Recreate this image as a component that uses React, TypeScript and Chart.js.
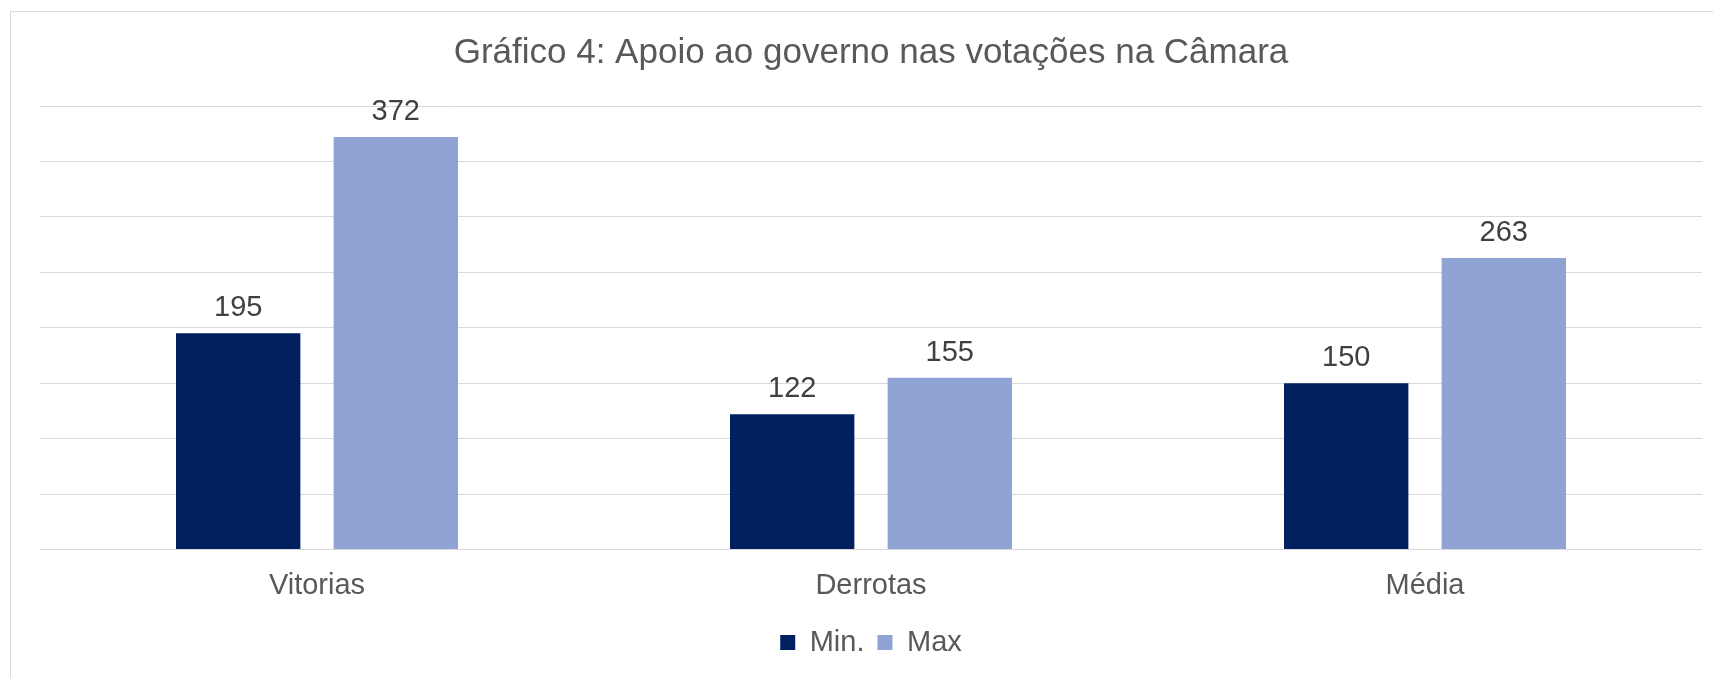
import React, { useEffect, useRef } from "react";
import { Chart, registerables } from "chart.js";

Chart.register(...registerables);

const categories = ["Vitorias", "Derrotas", "Média"];
const minValues = [195, 122, 150];
const maxValues = [372, 155, 263];
const seriesNames = ["Min.", "Max"];
const yMax = 400;
const yStep = 50;

const FONT = "'Liberation Sans', Arial, Helvetica, sans-serif";
const PLOT_BOTTOM = 549.5;
const LAYOUT_BOTTOM = 11;

const valueLabels = {
  id: "valueLabels",
  afterDatasetsDraw(chart: any) {
    const ctx = chart.ctx;
    ctx.save();
    ctx.font = `29px ${FONT}`;
    ctx.fillStyle = "#404040";
    ctx.textAlign = "center";
    ctx.textBaseline = "alphabetic";
    chart.data.datasets.forEach((ds: any, i: number) => {
      const meta = chart.getDatasetMeta(i);
      meta.data.forEach((el: any, j: number) => {
        ctx.fillText(String(ds.data[j]), el.x, el.y - 17);
      });
    });
    ctx.restore();
  },
};

export default function App() {
  const ref = useRef<HTMLCanvasElement | null>(null);
  useEffect(() => {
    if (!ref.current) return;
    const chart = new Chart(ref.current, {
      type: "bar",
      data: {
        labels: categories,
        datasets: [
          {
            label: seriesNames[0],
            data: minValues,
            backgroundColor: "#002060",
            categoryPercentage: 0.569,
            barPercentage: 0.789,
          },
          {
            label: seriesNames[1],
            data: maxValues,
            backgroundColor: "#8FA4D4",
            categoryPercentage: 0.569,
            barPercentage: 0.789,
          },
        ],
      },
      options: {
        responsive: false,
        animation: false,
        layout: { padding: { left: 40, right: 11, top: 0, bottom: LAYOUT_BOTTOM } },
        plugins: {
          title: {
            display: true,
            text: "Gráfico 4: Apoio ao governo nas votações na Câmara",
            color: "#595959",
            font: { family: FONT, size: 35, weight: "normal" },
            padding: { top: 32.4, bottom: 31.6 },
          },
          legend: {
            position: "bottom",
            labels: {
              color: "#595959",
              font: { family: FONT, size: 29 },
              boxWidth: 15,
              boxHeight: 15,
              padding: 13,
            },
          },
          tooltip: { enabled: false },
        },
        scales: {
          x: {
            grid: { display: false, drawTicks: false },
            border: { display: false },
            ticks: {
              color: "#595959",
              font: { family: FONT, size: 29 },
              padding: 19.4,
            },
            afterFit: (s: any) => {
              const lg = s.chart.legend;
              const avail = s.chart.height - LAYOUT_BOTTOM - (lg ? lg.height : 0);
              s.height = avail - PLOT_BOTTOM;
            },
          },
          y: {
            min: 0,
            max: yMax,
            ticks: { display: false, stepSize: yStep },
            grid: { color: "#D9D9D9", lineWidth: 1, drawTicks: false },
            border: { display: false },
          },
        },
      },
      plugins: [valueLabels],
    });
    return () => chart.destroy();
  }, []);

  return (
    <div
      style={{
        position: "fixed",
        left: 0,
        top: 0,
        width: 1713,
        height: 678,
        overflow: "hidden",
        background: "#fff",
      }}
    >
      <canvas
        ref={ref}
        width={1713}
        height={678}
        style={{ position: "absolute", left: 0, top: 0, width: 1713, height: 678 }}
      />
      <div
        style={{
          position: "absolute",
          left: 10,
          top: 11,
          width: 2000,
          height: 2000,
          borderLeft: "1px solid #D9D9D9",
          borderTop: "1px solid #D9D9D9",
          pointerEvents: "none",
        }}
      />
    </div>
  );
}
